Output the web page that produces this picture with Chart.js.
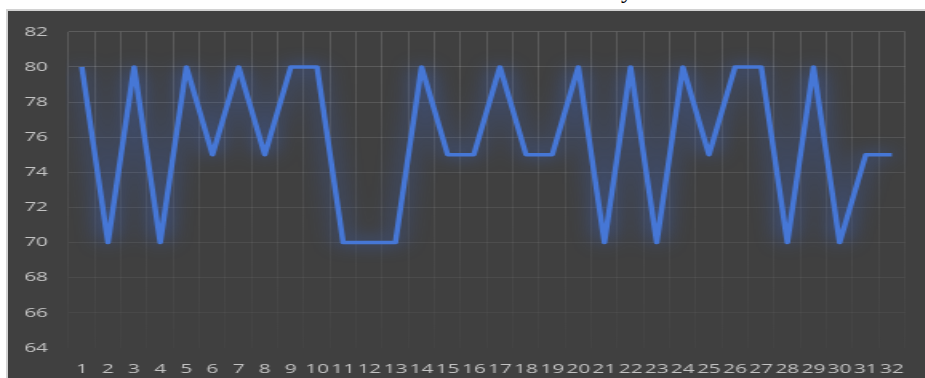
<!DOCTYPE html>
<html>
<head>
<meta charset="utf-8">
<script src="https://cdn.jsdelivr.net/npm/chart.js@4"></script>
<style>
  html, body { margin: 0; padding: 0; background: #fff; overflow: hidden; }
  body { width: 925px; height: 378px; position: relative; }
  .title-cut {
    position: absolute; left: 621px; top: -22px;
    font: 24px/24px "Liberation Serif", serif; color: #000;
  }
  .frame {
    position: absolute; left: 6px; top: 9px; width: 917px; height: 367px;
    border-left: 2px solid #d2d2d2; border-top: 2px solid #d2d2d2;
    background: #404040; overflow: hidden;
  }
  /* the picture is stretched sideways, so the chart is drawn narrow and widened */
  .stretch {
    position: absolute; left: 0; top: 0; width: 573px; height: 367px;
    transform: scaleX(1.6); transform-origin: left top;
  }
</style>
</head>
<body>
<div class="title-cut">y</div>
<div class="frame">
  <div class="stretch"><canvas id="chart"></canvas></div>
</div>
<script>
// categories on the x axis
const categories = ['1', '2', '3', '4', '5', '6', '7', '8', '9', '10', '11', '12', '13', '14', '15', '16',
  '17', '18', '19', '20', '21', '22', '23', '24', '25', '26', '27', '28', '29', '30', '31', '32'];

// series values
const values = [80, 70, 80, 70, 80, 75, 80, 75, 80, 80, 70, 70, 70, 80, 75, 75,
  80, 75, 75, 80, 70, 80, 70, 80, 75, 80, 80, 70, 80, 70, 75, 75];

// y axis tick labels
const yTicks = [64, 66, 68, 70, 72, 74, 76, 78, 80, 82];

const labelColor = '#c4c4c4';
const lineColor = '#4677d6';

// soft blue glow around the line
const glowPlugin = {
  id: 'glow',
  beforeDatasetsDraw(chart) {
    const ctx = chart.ctx;
    ctx.save();
    ctx.shadowColor = 'rgba(60, 110, 230, 0.8)';
    ctx.shadowBlur = 16;
  },
  afterDatasetsDraw(chart) {
    chart.ctx.restore();
  }
};

// vertical grid lines fade out toward the bottom
function fadingGrid(context) {
  const chart = context.chart;
  const area = chart.chartArea;
  if (!area) return 'rgba(255,255,255,0.12)';
  const g = chart.ctx.createLinearGradient(0, area.top, 0, area.bottom);
  g.addColorStop(0, 'rgba(255,255,255,0.15)');
  g.addColorStop(0.6, 'rgba(255,255,255,0.06)');
  g.addColorStop(1, 'rgba(255,255,255,0.02)');
  return g;
}

let ctx = document.getElementById('chart').getContext('2d');

new Chart(ctx, {
  type: 'line',
  data: {
    labels: categories,
    datasets: [{
      label: 'Series1',
      data: values,
      borderColor: lineColor,
      borderWidth: 3.5,
      pointRadius: 0,
      tension: 0,
      fill: false,
      borderJoinStyle: 'round'
    }]
  },
  options: {
    responsive: true,
    maintainAspectRatio: false,
    animation: false,
    layout: { padding: { top: 18, right: 8, left: 0, bottom: 0 } },
    plugins: {
      legend: { display: false },
      tooltip: { enabled: false }
    },
    scales: {
      x: {
        offset: true,
        border: { display: false },
        grid: {
          offset: true,
          drawTicks: false,
          lineWidth: 1,
          color: fadingGrid
        },
        ticks: {
          autoSkip: false,
          maxRotation: 0,
          minRotation: 0,
          padding: 13,
          color: labelColor,
          font: { family: '"Open Sans"', size: 13 }
        },
        afterFit: (scale) => { scale.height = 30; }
      },
      y: {
        min: yTicks[0],
        max: yTicks[yTicks.length - 1],
        border: { display: false },
        afterBuildTicks: (scale) => { scale.ticks = yTicks.map(v => ({ value: v })); },
        grid: {
          drawTicks: false,
          color: (c) => {
            const v = c.tick ? c.tick.value : 82;
            if (v === yTicks[0]) return 'rgba(0,0,0,0)';
            const a = 0.03 + 0.12 * (v - yTicks[0]) / (yTicks[yTicks.length - 1] - yTicks[0]);
            return 'rgba(255,255,255,' + a.toFixed(3) + ')';
          }
        },
        ticks: {
          padding: 13,
          color: labelColor,
          font: { family: '"Open Sans"', size: 13 }
        },
        afterFit: (scale) => { scale.width = 38; }
      }
    }
  },
  plugins: [glowPlugin]
});
</script>
</body>
</html>
